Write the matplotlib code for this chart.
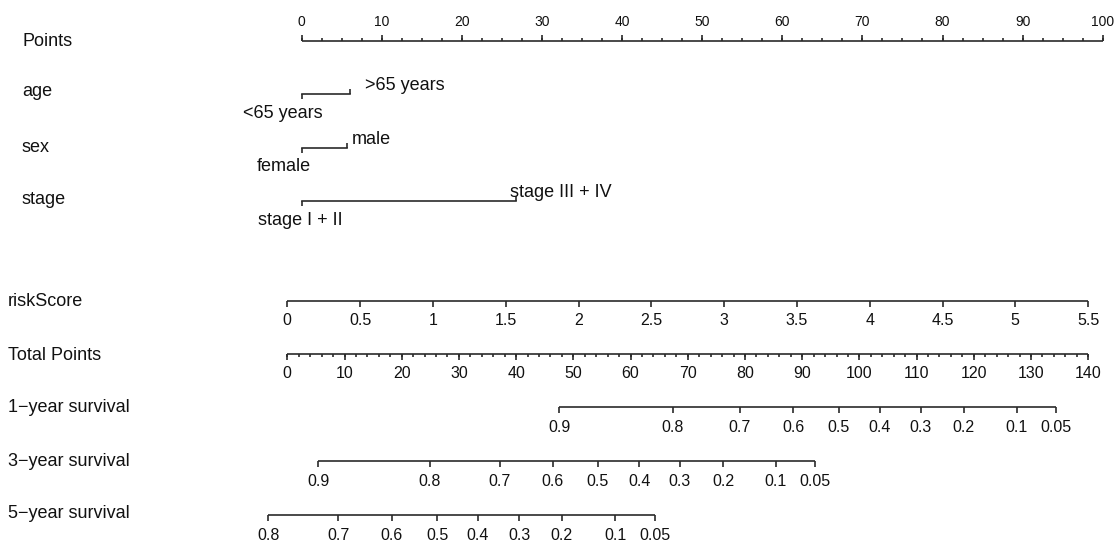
import numpy as np
import matplotlib.pyplot as plt

plt.rcParams['font.family'] = ['Liberation Sans', 'DejaVu Sans']

# data
points_ticks = np.arange(0, 101, 10)
points_minor = np.arange(0, 100.1, 2.5)

age_levels = ['<65 years', '>65 years']
age_points = [0, 6.0]
sex_levels = ['female', 'male']
sex_points = [0, 5.6]
stage_levels = ['stage I + II', 'stage III + IV']
stage_points = [0, 26.8]

risk_ticks = [0, 0.5, 1, 1.5, 2, 2.5, 3, 3.5, 4, 4.5, 5, 5.5]
total_ticks = np.arange(0, 141, 10)
total_minor = np.arange(0, 141, 2)

surv_labels = ['0.9', '0.8', '0.7', '0.6', '0.5', '0.4', '0.3', '0.2', '0.1', '0.05']
surv1_total = [47.5, 67.4, 79.1, 88.4, 96.4, 103.6, 110.7, 118.2, 127.5, 134.4]
surv3_total = [5.4, 24.9, 37.1, 46.4, 54.3, 61.5, 68.6, 76.2, 85.4, 92.3]
surv5_labels = ['0.8', '0.7', '0.6', '0.5', '0.4', '0.3', '0.2', '0.1', '0.05']
surv5_total = [-3.3, 8.9, 18.3, 26.2, 33.3, 40.5, 48.0, 57.3, 64.2]

# scales (pixel layout)
def pts_x(p):
    return 301.7 + 8.01 * np.asarray(p, dtype=float)

def tot_x(t):
    return 287.3 + 5.721 * np.asarray(t, dtype=float)

def risk_x(r):
    return 287.3 + 145.6 * np.asarray(r, dtype=float)

fig = plt.figure(figsize=(11.18, 5.42), dpi=100)
ax = fig.add_axes([0, 0, 1, 1])
ax.set_xlim(0, 1118)
ax.set_ylim(542, 0)
ax.axis('off')

lc = '#2a2a2a'
tc = '#111111'
lw = 1.2
fs_row = 13
fs_tick = 11.5


def axis_row(y, xs, labels, up=False, minor=None, dy_lab=20, fs=fs_tick):
    xs = np.asarray(xs)
    ax.plot([xs.min(), xs.max()], [y, y], color=lc, lw=lw, solid_capstyle='butt')
    s = -1 if up else 1
    ax.vlines(xs, y, y + s * 6, color=lc, lw=lw)
    if minor is not None:
        ax.vlines(minor, y, y + s * 3, color=lc, lw=lw)
    for x, lab in zip(xs, labels):
        ax.text(x, y + s * dy_lab, lab, ha='center', va='center', fontsize=fs, color=tc)


def level_row(y, pts, levels, dx_low, dx_up):
    xs = pts_x(pts)
    ax.plot([xs[0], xs[1]], [y, y], color=lc, lw=lw)
    ax.vlines(xs[0], y, y + 5, color=lc, lw=lw)
    ax.vlines(xs[1], y, y - 5, color=lc, lw=lw)
    ax.text(xs[0] + dx_low, y + 19, levels[0], ha='center', va='center', fontsize=fs_row, color=tc)
    ax.text(xs[1] + dx_up, y - 8.5, levels[1], ha='center', va='center', fontsize=fs_row, color=tc)


# row labels
rows = ['Points', 'age', 'sex', 'stage', 'riskScore', 'Total Points',
        '1\u2212year survival', '3\u2212year survival', '5\u2212year survival']
row_y = [41, 92, 147, 200, 301, 355, 407, 461, 514]
row_x = [22, 22, 22, 22, 7.5, 7.5, 7.5, 7.5, 7.5]
for lab, x, y in zip(rows, row_x, row_y):
    ax.text(x, y, lab, ha='left', va='center', fontsize=fs_row, color=tc)

axis_row(40.7, pts_x(points_ticks), [str(v) for v in points_ticks], up=True,
         minor=pts_x(points_minor), dy_lab=18.5, fs=10)

level_row(94.3, age_points, age_levels, -18.7, 55.5)
level_row(147.7, sex_points, sex_levels, -18.2, 24.6)
level_row(201.3, stage_points, stage_levels, -0.9, 44.3)

axis_row(300.7, risk_x(risk_ticks), [f'{v:g}' for v in risk_ticks])
axis_row(354, tot_x(total_ticks), [str(v) for v in total_ticks], minor=tot_x(total_minor))
axis_row(407.3, tot_x(surv1_total), surv_labels)
axis_row(461, tot_x(surv3_total), surv_labels)
axis_row(515, tot_x(surv5_total), surv5_labels)

fig.savefig('out.png', dpi=100)
